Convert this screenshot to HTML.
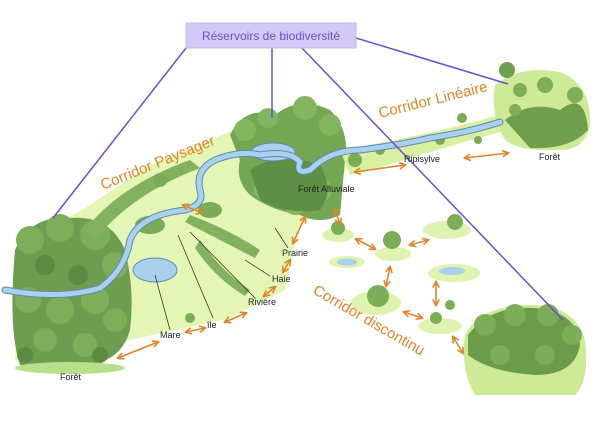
<!DOCTYPE html>
<html><head><meta charset="utf-8"><style>
html,body{margin:0;padding:0;background:#fff;width:600px;height:424px;overflow:hidden}
svg{display:block}
.o{fill:#e0852a;font-family:"Liberation Sans",sans-serif;font-size:15px}
.k{fill:#222;font-family:"Liberation Sans",sans-serif;font-size:9px}
.a{stroke:#e0852a;stroke-width:1.6;fill:none}
</style></head><body>
<svg width="600" height="424" viewBox="0 0 600 424" xmlns="http://www.w3.org/2000/svg">
<defs>
<marker id="h" viewBox="0 0 10 10" refX="8" refY="5" markerWidth="5" markerHeight="5" orient="auto-start-reverse"><path d="M1,1 L9,5 L1,9" fill="none" stroke="#e0852a" stroke-width="2"/></marker>
</defs>
<path d="M20,300 L55,225 L90,205 L150,165 L210,140 L245,125 L300,108 L345,140 L350,160 L330,205 L300,225 L285,290 L230,318 L130,340 L60,365 L15,360 Z" fill="#e4f6b6"/>
<path d="M15,250 Q30,215 70,218 Q110,215 125,250 Q135,290 130,330 Q120,365 80,365 L20,365 Q8,330 15,250Z" fill="#6f9d4f"/>
<g fill="#7fae5a">
<circle cx="30" cy="240" r="14"/><circle cx="60" cy="228" r="14"/><circle cx="95" cy="235" r="15"/><circle cx="115" cy="265" r="13"/>
<circle cx="28" cy="300" r="13"/><circle cx="60" cy="310" r="14"/><circle cx="95" cy="300" r="14"/><circle cx="115" cy="320" r="12"/>
<circle cx="45" cy="340" r="12"/><circle cx="85" cy="345" r="12"/>
</g>
<g fill="#5c8a42"><circle cx="45" cy="265" r="10"/><circle cx="78" cy="275" r="10"/><circle cx="100" cy="355" r="8"/><circle cx="25" cy="355" r="8"/></g>
<ellipse cx="70" cy="368" rx="55" ry="6" fill="#b8e08a"/>
<path d="M230,135 Q245,105 275,115 Q300,95 330,110 Q350,130 345,160 L340,215 Q320,225 300,215 Q270,210 250,195 Q235,180 240,160 Z" fill="#74a653"/>
<g fill="#84b65f"><circle cx="245" cy="130" r="11"/><circle cx="268" cy="118" r="10"/><circle cx="305" cy="108" r="12"/><circle cx="330" cy="125" r="11"/><circle cx="320" cy="190" r="12"/><circle cx="265" cy="190" r="11"/><circle cx="295" cy="205" r="10"/></g>
<path d="M250,170 Q280,150 320,165 Q335,190 320,210 Q285,215 260,200Z" fill="#5f8f45"/>
<path d="M85,230 Q120,185 190,160 L200,168 Q130,195 95,240Z" fill="#82b25e"/>
<path d="M190,215 Q230,230 260,250 L255,258 Q220,240 185,222Z" fill="#82b25e"/>
<path d="M200,240 Q220,270 250,290 L245,296 Q215,278 195,248Z" fill="#82b25e"/>
<ellipse cx="150" cy="225" rx="15" ry="9" fill="#7aac55"/>
<ellipse cx="210" cy="210" rx="12" ry="8" fill="#7aac55"/>
<circle cx="190" cy="318" r="5" fill="#7aac55"/><circle cx="160" cy="180" r="7" fill="#7aac55"/>
<ellipse cx="155" cy="270" rx="22" ry="12" fill="#a9d0ec" stroke="#5d8ab0" stroke-width="1"/>
<ellipse cx="273" cy="152" rx="22" ry="9" fill="#a9d0ec" stroke="#5d8ab0" stroke-width="1"/>
<path d="M340,150 Q400,140 450,128 Q490,118 510,112 L515,128 Q470,140 420,155 Q380,168 350,175Z" fill="#d8f0a0"/>
<g fill="#7aac55"><circle cx="355" cy="160" r="7"/><circle cx="380" cy="150" r="5"/><circle cx="440" cy="140" r="5"/><circle cx="462" cy="118" r="5"/><circle cx="478" cy="140" r="4"/></g>
<path d="M495,85 Q520,65 560,72 Q592,85 590,125 Q585,150 560,150 Q520,152 505,140 Q490,115 495,85Z" fill="#cdeb97"/>
<path d="M505,120 Q530,100 560,110 Q585,90 588,130 Q570,150 530,148Z" fill="#6e9e4e"/>
<g fill="#7fae5a"><circle cx="520" cy="90" r="7"/><circle cx="545" cy="85" r="8"/><circle cx="575" cy="95" r="8"/><circle cx="515" cy="110" r="6"/></g>
<circle cx="507" cy="70" r="8" fill="#6e9e4e"/>
<path d="M465,335 Q480,305 530,305 Q575,305 585,340 Q590,380 575,395 L475,395 Q460,370 465,335Z" fill="#cdeb97"/>
<path d="M468,335 Q490,305 535,308 Q578,312 580,345 Q575,375 535,375 Q490,372 468,355Z" fill="#6c9b4c"/>
<g fill="#7dad58"><circle cx="485" cy="325" r="11"/><circle cx="515" cy="315" r="11"/><circle cx="548" cy="315" r="11"/><circle cx="572" cy="335" r="10"/><circle cx="500" cy="355" r="10"/><circle cx="545" cy="355" r="10"/></g>
<ellipse cx="338" cy="235" rx="16" ry="7" fill="#dff3b0"/><circle cx="338" cy="228" r="7" fill="#7cae57"/>
<ellipse cx="347" cy="262" rx="18" ry="6" fill="#dff3b0"/><ellipse cx="347" cy="262" rx="10" ry="3.5" fill="#a9d0ec"/>
<ellipse cx="393" cy="254" rx="18" ry="7" fill="#dff3b0"/><circle cx="392" cy="240" r="9" fill="#7cae57"/>
<ellipse cx="447" cy="230" rx="24" ry="9" fill="#dff3b0"/><circle cx="455" cy="222" r="8" fill="#7cae57"/>
<ellipse cx="454" cy="273" rx="26" ry="9" fill="#dff3b0"/><ellipse cx="452" cy="271" rx="13" ry="4" fill="#a9d0ec"/>
<ellipse cx="376" cy="303" rx="25" ry="12" fill="#dff3b0"/><circle cx="378" cy="296" r="11" fill="#7cae57"/>
<ellipse cx="440" cy="326" rx="22" ry="8" fill="#dff3b0"/><circle cx="436" cy="318" r="6" fill="#7cae57"/><circle cx="450" cy="305" r="5" fill="#7cae57"/>
<path d="M5,290 Q60,300 100,288 Q125,270 130,240 Q140,215 185,210 Q205,205 200,190 Q195,170 215,160 Q240,150 260,155 Q290,150 300,162 Q295,175 310,170 Q330,150 360,150 Q400,145 430,138 Q470,132 500,122" fill="none" stroke="#5d8ab0" stroke-width="7" stroke-linecap="round"/>
<path d="M5,290 Q60,300 100,288 Q125,270 130,240 Q140,215 185,210 Q205,205 200,190 Q195,170 215,160 Q240,150 260,155 Q290,150 300,162 Q295,175 310,170 Q330,150 360,150 Q400,145 430,138 Q470,132 500,122" fill="none" stroke="#a9d0ec" stroke-width="5" stroke-linecap="round"/>
<g stroke="#6a4fcf" stroke-width="1.5">
<line x1="186" y1="48" x2="53" y2="218"/>
<line x1="272" y1="48" x2="272" y2="118"/>
<line x1="302" y1="48" x2="563" y2="320"/>
<line x1="356" y1="38" x2="508" y2="84"/>
</g>
<rect x="186" y="23" width="170" height="25" fill="#d3c9f4" stroke="#c3b6ef"/>
<text x="271" y="40" text-anchor="middle" font-family="Liberation Sans,sans-serif" font-size="12" fill="#6a4fcf">Réservoirs de biodiversité</text>
<text class="o" transform="translate(103,190) rotate(-22)">Corridor Paysager</text>
<text class="o" transform="translate(380,118) rotate(-14)">Corridor Linéaire</text>
<text class="o" transform="translate(312,293) rotate(30)">Corridor discontinu</text>
<text class="k" x="60" y="380">Forêt</text>
<text class="k" x="160" y="338">Mare</text>
<text class="k" x="207" y="328">île</text>
<text class="k" x="248" y="305">Rivière</text>
<text class="k" x="272" y="282">Haie</text>
<text class="k" x="282" y="256">Prairie</text>
<text class="k" x="298" y="192">Forêt Alluviale</text>
<text class="k" x="404" y="162">Ripisylve</text>
<text class="k" x="539" y="160">Forêt</text>
<g stroke="#222" stroke-width="0.7">
<line x1="155" y1="275" x2="170" y2="330"/>
<line x1="178" y1="235" x2="213" y2="318"/>
<line x1="190" y1="232" x2="255" y2="298"/>
<line x1="245" y1="260" x2="270" y2="276"/>
<line x1="275" y1="228" x2="288" y2="248"/>
</g>
<g class="a" marker-start="url(#h)" marker-end="url(#h)">
<line x1="118" y1="358" x2="158" y2="342"/>
<line x1="186" y1="332" x2="205" y2="328"/>
<line x1="225" y1="322" x2="246" y2="313"/>
<line x1="264" y1="296" x2="275" y2="287"/>
<line x1="283" y1="272" x2="290" y2="260"/>
<line x1="293" y1="243" x2="305" y2="217"/>
<line x1="355" y1="172" x2="405" y2="165"/>
<line x1="465" y1="158" x2="508" y2="153"/>
<line x1="183" y1="205" x2="202" y2="213"/>
<line x1="335" y1="210" x2="340" y2="224"/>
<line x1="356" y1="239" x2="375" y2="249"/>
<line x1="410" y1="245" x2="428" y2="240"/>
<line x1="390" y1="267" x2="386" y2="286"/>
<line x1="436" y1="282" x2="436" y2="305"/>
<line x1="404" y1="312" x2="422" y2="318"/>
<line x1="453" y1="337" x2="463" y2="353"/>
</g>
</svg>
</body></html>
